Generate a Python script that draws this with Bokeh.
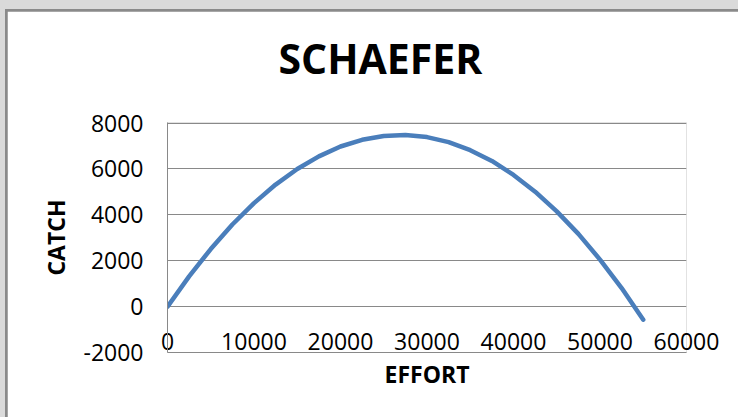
from bokeh.plotting import figure
from bokeh.layouts import column
from bokeh.models import Range1d, FixedTicker, Title, PrintfTickFormatter
from bokeh.embed import file_html
from bokeh.resources import INLINE

# Data
effort = [0, 2500, 5000, 7500, 10000, 12500, 15000, 17500, 20000, 22500,
          25000, 27500, 30000, 32500, 35000, 37500, 40000, 42500, 45000,
          47500, 50000, 52500, 55000]
catch = [0, 1320, 2510, 3580, 4510, 5320, 6000, 6550, 6980, 7270,
         7440, 7480, 7390, 7170, 6820, 6350, 5740, 5010, 4150,
         3170, 2050, 810, -570]

x_ticks = [0, 10000, 20000, 30000, 40000, 50000, 60000]
y_ticks = [-2000, 0, 2000, 4000, 6000, 8000]

title_text = "SCHAEFER"
x_label = "EFFORT"
y_label = "CATCH"

GRID = "#898989"
BLUE = "#4a7ebb"
FONT = "Open Sans"

p = figure(width=731, height=406, output_backend="svg", toolbar_location=None,
           x_range=Range1d(0, 60000), y_range=Range1d(-2000, 8025),
           min_border_left=160, min_border_right=52, min_border_top=111,
           min_border_bottom=65)
p.background_fill_color = "white"
p.border_fill_color = "white"
p.outline_line_color = None

# small spacer between plot area and title, then the title itself
spacer = Title(text=" ", text_font_size="1px", standoff=28)
p.add_layout(spacer, "above")
t = Title(text=title_text, align="left", offset=111, standoff=10,
          vertical_align="middle",
          text_font=FONT, text_font_size="41px", text_font_style="bold",
          text_color="black")
p.add_layout(t, "above")

p.line(effort, catch, line_color=BLUE, line_width=4.5, line_cap="round",
       line_join="round")

# grid
p.xgrid.visible = False
p.ygrid.ticker = FixedTicker(ticks=y_ticks)
p.ygrid.grid_line_color = GRID
p.ygrid.grid_line_width = 1

fmt = "%d"

# x axis
xa = p.xaxis[0]
xa.ticker = FixedTicker(ticks=x_ticks)
xa.formatter = PrintfTickFormatter(format=fmt)
xa.axis_line_color = GRID
xa.major_tick_line_color = None
xa.minor_tick_line_color = None
xa.major_label_standoff = -26
xa.major_label_text_font = FONT
xa.major_label_text_font_size = "23px"
xa.major_label_text_color = "black"
xa.axis_label = x_label
xa.axis_label_text_font = FONT
xa.axis_label_text_font_size = "23px"
xa.axis_label_text_font_style = "bold"
xa.axis_label_text_color = "black"
xa.axis_label_standoff = 5

# y axis
ya = p.yaxis[0]
ya.ticker = FixedTicker(ticks=y_ticks)
ya.formatter = PrintfTickFormatter(format=fmt)
ya.axis_line_color = GRID
ya.major_tick_line_color = None
ya.minor_tick_line_color = None
ya.major_label_standoff = 18
ya.major_label_text_font = FONT
ya.major_label_text_font_size = "23px"
ya.major_label_text_color = "black"
ya.axis_label = y_label
ya.axis_label_text_font = FONT
ya.axis_label_text_font_size = "23px"
ya.axis_label_text_font_style = "bold"
ya.axis_label_text_color = "black"
ya.axis_label_standoff = 8

inner = column(p, styles={"background-color": "#8a8a8a",
                          "padding": "2px 0px 0px 2px"})
outer = column(inner, styles={"background-color": "#dadada",
                              "padding": "9px 0px 0px 5px"})

open("out.html", "w").write(file_html(outer, INLINE))
